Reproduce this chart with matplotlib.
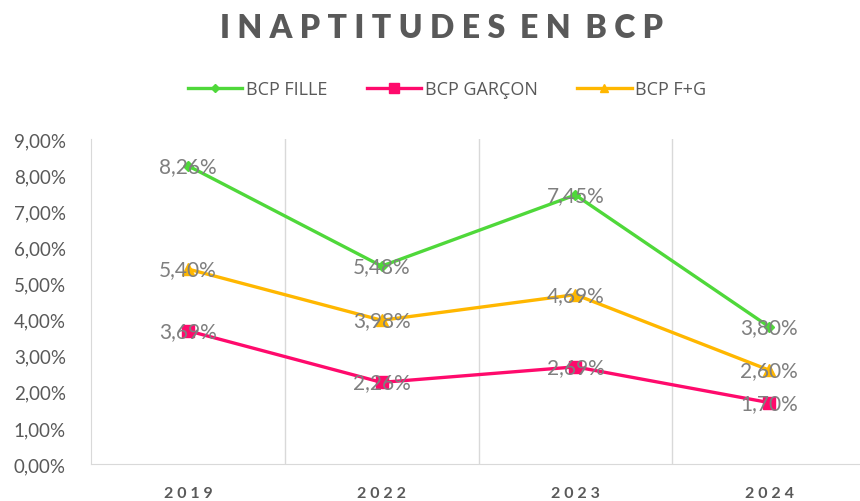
import matplotlib.pyplot as plt
import numpy as np

years = ["2019", "2022", "2023", "2024"]
fille = [8.26, 5.48, 7.45, 3.80]
garcon = [3.69, 2.26, 2.69, 1.70]
fg = [5.40, 3.98, 4.69, 2.60]
yticks = [0, 1, 2, 3, 4, 5, 6, 7, 8, 9]

green = "#4fd83a"
pink = "#ff0a6c"
orange = "#ffb700"
grey = "#7f7f7f"

fig = plt.figure(figsize=(8.6, 5.02), dpi=100)
ax = fig.add_axes([91/860, 1-465/502, 775/860, 325/502])

x = np.arange(len(years))
ax.plot(x, fille, color=green, lw=2.4, marker="D", ms=5.5, label="BCP FILLE")
ax.plot(x, garcon, color=pink, lw=2.4, marker="s", ms=9, label="BCP GARÇON")
ax.plot(x, fg, color=orange, lw=2.4, marker="^", ms=8, label="BCP F+G")

for ser in [fille, garcon, fg]:
    for i, v in enumerate(ser):
        ax.text(x[i], v, ("%.2f%%" % v).replace(".", ","), ha="center", va="center",
                fontsize=15, color=grey, family="Lato")

ax.set_xlim(-0.5, 3.5)
ax.set_ylim(0, 9)
ax.set_yticks(yticks)
ax.set_yticklabels([("%.2f%%" % t).replace(".", ",") for t in yticks], family="Lato", fontsize=13.5, color="#595959")
ax.set_xticks(x)
ax.set_xticklabels([" ".join(list(y)) for y in years], family="Lato", fontsize=11.5, fontweight="bold", color="#595959")
ax.tick_params(length=0)
ax.tick_params(axis="y", pad=18)
ax.tick_params(axis="x", pad=16)
for b in [0.5, 1.5, 2.5]:
    ax.axvline(b, color="#d9d9d9", lw=1, zorder=0)
for s in ["top", "right"]:
    ax.spines[s].set_visible(False)
ax.spines["left"].set_color("#d9d9d9")
ax.spines["bottom"].set_color("#d9d9d9")

fig.text(0.513, 1-28/502, "I N A P T I T U D E S  E N  B C P", ha="center", va="center",
         fontsize=23, fontweight="heavy", color="#595959", family="Lato")

leg = fig.legend(loc="center", bbox_to_anchor=(0.52, 1-90/502), ncol=3, frameon=False,
                 prop={"family": "Open Sans", "size": 13}, handlelength=3.0, columnspacing=2.2,
                 handletextpad=0.2, markerscale=0.8)
for t in leg.get_texts():
    t.set_color("#595959")

fig.savefig("out.png", dpi=100)
